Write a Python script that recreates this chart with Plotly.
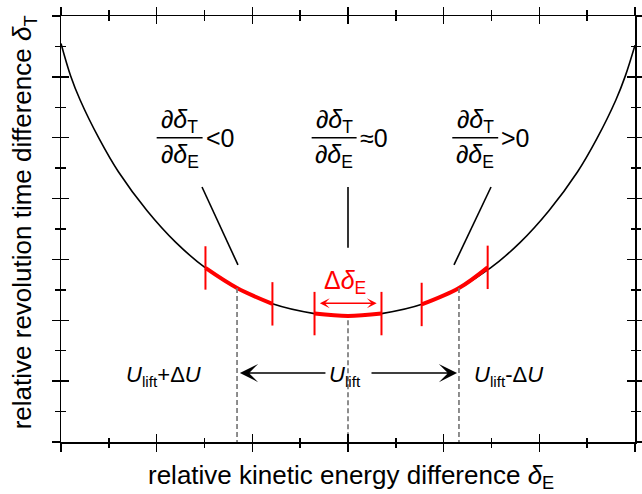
import plotly.graph_objects as go

# ---- data ----
curve_x = [-3.0, -2.9, -2.8, -2.6, -2.4, -2.1, -1.8, -1.49, -1.16, -0.79, -0.35, 0.0,
           0.35, 0.79, 1.16, 1.49, 1.8, 2.1, 2.4, 2.6, 2.8, 2.9, 3.0]
curve_y = [6.55, 6.02, 5.62, 4.98, 4.44, 3.80, 3.28, 2.86, 2.53, 2.27, 2.11, 2.07,
           2.11, 2.27, 2.53, 2.86, 3.28, 3.80, 4.44, 4.98, 5.62, 6.02, 6.52]

red_left_x = [-1.49, -1.16, -0.79]
red_left_y = [2.86, 2.53, 2.27]
red_mid_x = [-0.35, 0.0, 0.35]
red_mid_y = [2.11, 2.07, 2.11]
red_right_x = [0.77, 1.16, 1.46]
red_right_y = [2.26, 2.53, 2.87]

red_tick_x = [-1.49, -0.79, -0.35, 0.35, 0.77, 1.46]
red_tick_y = [2.86, 2.27, 2.11, 2.11, 2.26, 2.87]

dash_x = [-1.16, 0.0, 1.16]
dash_top = [2.53, 2.0, 2.53]

leader_x0 = [-1.526, 0.0, 1.495]
leader_y0 = [4.19, 4.19, 4.19]
leader_x1 = [-1.15, 0.0, 1.108]
leader_y1 = [2.91, 3.19, 2.91]

frac_x0 = [-2.0, -0.38, 1.09]
frac_x1 = [-1.52, 0.09, 1.57]
frac_y = 5.0
frac_rel = ["&lt;0", "≈0", "&gt;0"]

u_arrow_y = 1.133
u_left_head, u_left_tail = -1.13, -0.22
u_right_tail, u_right_head = 0.23, 1.14

dd_arrow_y = 2.28
dd_arrow_x = [-0.31, 0.30]

FONT = "Liberation Sans, Arial, sans-serif"
fs = 25

fig = go.Figure()

# main curve
fig.add_trace(go.Scatter(x=curve_x, y=curve_y, mode="lines",
                         line=dict(color="black", width=1.6, shape="spline", smoothing=1.0),
                         hoverinfo="skip", showlegend=False))

# red thick segments
for sx, sy in [(red_left_x, red_left_y), (red_mid_x, red_mid_y), (red_right_x, red_right_y)]:
    fig.add_trace(go.Scatter(x=sx, y=sy, mode="lines", line=dict(color="#ff0000", width=4, shape="spline"),
                             hoverinfo="skip", showlegend=False))

# red end bars
fig.add_trace(go.Scatter(x=red_tick_x, y=red_tick_y, mode="markers",
                         marker=dict(symbol="line-ns", size=31, line=dict(width=2, color="#ff0000")),
                         hoverinfo="skip", showlegend=False))

# dashed grey verticals
dx, dy = [], []
for x, t in zip(dash_x, dash_top):
    dx += [x, x, None]
    dy += [t, 0, None]
fig.add_trace(go.Scatter(x=dx, y=dy, mode="lines", line=dict(color="#7a7a7a", width=1.7, dash="5px,3px"),
                         hoverinfo="skip", showlegend=False))

# leader lines
lx, ly = [], []
for a, b, c, d in zip(leader_x0, leader_y0, leader_x1, leader_y1):
    lx += [a, c, None]
    ly += [b, d, None]
fig.add_trace(go.Scatter(x=lx, y=ly, mode="lines", line=dict(color="black", width=1.6),
                         hoverinfo="skip", showlegend=False))

# fraction bars
bx, by = [], []
for a, c in zip(frac_x0, frac_x1):
    bx += [a, c, None]
    by += [frac_y, frac_y, None]
fig.add_trace(go.Scatter(x=bx, y=by, mode="lines", line=dict(color="black", width=1.4),
                         hoverinfo="skip", showlegend=False))

# dummy trace on overlay axes (for crossing ticks)
fig.add_trace(go.Scatter(x=[None], y=[None], xaxis="x2", yaxis="y2", showlegend=False, hoverinfo="skip"))

ann = []
for a, c, rel in zip(frac_x0, frac_x1, frac_rel):
    xc = (a + c) / 2
    ann.append(dict(x=xc, y=frac_y + 0.27, text="<i>∂δ</i><sub>T</sub>", showarrow=False,
                    xanchor="center", yanchor="middle", font=dict(size=fs, family=FONT, color="black")))
    ann.append(dict(x=xc, y=frac_y - 0.3, text="<i>∂δ</i><sub>E</sub>", showarrow=False,
                    xanchor="center", yanchor="middle", font=dict(size=fs, family=FONT, color="black")))
    ann.append(dict(x=c, y=frac_y, text=rel, showarrow=False, xanchor="left", yanchor="middle",
                    font=dict(size=fs, family=FONT, color="black"), xshift=1))

# U labels
ufs = 22
ann.append(dict(x=-0.03, y=u_arrow_y, text="<i>U</i><sub>lift</sub>", showarrow=False, xanchor="center",
                yanchor="middle", font=dict(size=ufs, family=FONT, color="black"), yshift=-3))
ann.append(dict(x=-1.93, y=u_arrow_y, text="<i>U</i><sub>lift</sub>+Δ<i>U</i>", showarrow=False, xanchor="center",
                yanchor="middle", font=dict(size=ufs, family=FONT, color="black"), yshift=-3))
ann.append(dict(x=1.68, y=u_arrow_y, text="<i>U</i><sub>lift</sub>-Δ<i>U</i>", showarrow=False, xanchor="center",
                yanchor="middle", font=dict(size=ufs, family=FONT, color="black"), yshift=-3))

# arrows
for head, tail in [(u_left_head, u_left_tail), (u_right_head, u_right_tail)]:
    ann.append(dict(x=head, y=u_arrow_y, ax=tail, ay=u_arrow_y, xref="x", yref="y", axref="x", ayref="y",
                    text="", showarrow=True, arrowhead=3, arrowsize=1.9, arrowwidth=1.6, arrowcolor="black",
                    standoff=0, startstandoff=0))

ann.append(dict(x=dd_arrow_x[1], y=dd_arrow_y, ax=dd_arrow_x[0], ay=dd_arrow_y, xref="x", yref="y", axref="x", ayref="y",
                text="", showarrow=True, arrowhead=3, startarrowhead=3, arrowside="end+start",
                arrowsize=1.1, startarrowsize=1.1, arrowwidth=1.5, arrowcolor="#ff0000", standoff=0, startstandoff=0))

ann.append(dict(x=-0.03, y=2.63, text="Δ<i>δ</i><sub>E</sub>", showarrow=False, xanchor="center", yanchor="middle",
                font=dict(size=25, family=FONT, color="#ff0000")))

# axis titles
tfs = 26
ann.append(dict(x=0.505, y=-0.082, xref="paper", yref="paper", text="relative kinetic energy difference <i>δ</i><sub>E</sub>",
                showarrow=False, xanchor="center", yanchor="middle", font=dict(size=tfs, family=FONT, color="black")))
ann.append(dict(x=-0.065, y=0.515, xref="paper", yref="paper", text="relative revolution time difference <i>δ</i><sub>T</sub>",
                showarrow=False, xanchor="center", yanchor="middle", textangle=-90,
                font=dict(size=tfs, family=FONT, color="black")))

axis_common = dict(showgrid=False, zeroline=False, showticklabels=False, showline=True, linecolor="black",
                   linewidth=1.5, tickcolor="black", tickwidth=1.5, mirror="ticks", ticklen=8, automargin=False)

fig.update_layout(
    template="none",
    width=642, height=494,
    margin=dict(l=61, r=7, t=16, b=52, autoexpand=False),
    paper_bgcolor="white", plot_bgcolor="white",
    showlegend=False,
    annotations=ann,
    xaxis=dict(range=[-3, 3], dtick=1, tick0=0, ticks="outside",
               minor=dict(dtick=0.5, ticks="outside", ticklen=4.5, tickwidth=1.5, tickcolor="black"), **axis_common),
    yaxis=dict(range=[0, 7], dtick=1, tick0=0, ticks="outside",
               minor=dict(dtick=0.5, ticks="outside", ticklen=4.5, tickwidth=1.5, tickcolor="black"), **axis_common),
    xaxis2=dict(range=[-3, 3], dtick=1, tick0=0, ticks="inside", overlaying="x", anchor="y2",
                minor=dict(dtick=0.5, ticks="inside", ticklen=4.5, tickwidth=1.5, tickcolor="black"), **axis_common),
    yaxis2=dict(range=[0, 7], dtick=1, tick0=0, ticks="inside", overlaying="y", anchor="x2",
                minor=dict(dtick=0.5, ticks="inside", ticklen=4.5, tickwidth=1.5, tickcolor="black"), **axis_common),
)

fig.write_html("out.html", config={"displayModeBar": False, "staticPlot": True},
               post_script="document.body.style.margin='0';document.body.style.overflow='hidden';")
